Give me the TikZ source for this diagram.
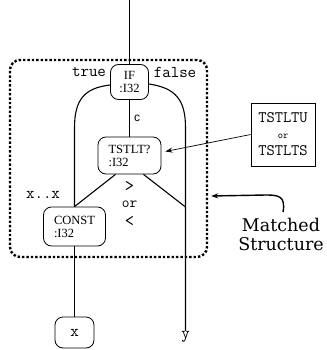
\documentclass[tikz,border=0pt]{standalone}
\usepackage{fontspec}
\setmainfont{Liberation Serif}
\newfontfamily\sansfont{Liberation Sans}
\newfontfamily\capfont{DejaVu Serif}
\usetikzlibrary{arrows.meta}
\begin{document}
\begin{tikzpicture}[x=1pt,y=-1pt,
  wire/.style={line width=1.1pt},
  opnode/.style={draw, line width=0.8pt, rounded corners=8pt, inner sep=2pt,
    font=\fontsize{12.5}{13}\selectfont, align=left},
  lbl/.style={font=\ttfamily\fontsize{16.5}{17}\selectfont, inner sep=0pt},
  cmp/.style={font=\ttfamily\fontsize{18}{18}\selectfont, inner sep=0pt, text height=8pt, text depth=0pt},
  matchbox/.style={draw, line width=2.4pt, dash pattern=on 2.4pt off 2pt,
    rounded corners=10pt},
  tip/.style={-{Stealth[length=7pt,width=5pt]}}]
\useasboundingbox (0,0) rectangle (326,350);

% matched region
\node[matchbox, minimum width=197pt, minimum height=197pt] (match) at (108.5,158.5) {};

% operation nodes
\node[opnode, align=center, minimum width=38pt, minimum height=35pt] (if) at (129.5,82) {IF\\:I32};
\node[opnode, minimum width=63pt, minimum height=37pt] (tstlt) at (129.5,155.5) {TSTLT?\\:I32};
\node[opnode, minimum width=62pt, minimum height=39pt] (const) at (74.5,226.5) {CONST\\:I32};
\node[draw, line width=0.8pt, rounded corners=8pt, minimum width=39pt, minimum height=31pt,
  font=\ttfamily\fontsize{16.5}{17}\selectfont] (xn) at (74.5,332.5) {x};

% opcode alternatives
\node[draw, line width=0.8pt, minimum width=64pt, minimum height=63pt, inner sep=1pt,
  align=center, font=\ttfamily\fontsize{16}{17}\selectfont] (alt) at (283,134.5)
  {TSTLTU\\[-1pt]{\fontsize{10}{10}\selectfont or}\\TSTLTS};

% wires
\coordinate (top) at (129.5,0);
\coordinate (rj) at (185.5,207);
\coordinate (yend) at (185.5,331);
\draw[wire] (top) -- (if.north);
\draw[wire] (if.south) -- node[right=4pt, font=\sansfont\fontsize{12}{13}\selectfont, inner sep=0pt] {c} (tstlt.north);
\draw[wire] ([yshift=-3pt]if.west) .. controls (84,88) and (74.5,100) .. (74.5,128) -- (const.north);
\draw[wire] ([yshift=-2pt]if.east) .. controls (176,88) and (185.5,100) .. (185.5,128) -- (yend);
\draw[wire] ([xshift=-14pt]tstlt.south) -- (const.north);
\draw[wire] ([xshift=14pt]tstlt.south) -- (rj);
\draw[wire] (const.south) -- (xn.north);

% labels
\node[lbl] at (89,72) {true};
\node[lbl] at (175,72) {false};
\node[lbl] at (43,195) {x..x};
\node[lbl, anchor=north] at (yend) {y};
\node[cmp] at (129.5,187.5) {>};
\node[font=\ttfamily\fontsize{15}{15}\selectfont, inner sep=0pt] at (129.5,204) {or};
\node[cmp] at (129.5,222) {<};

% annotations
\draw[line width=0.7pt, tip] (alt.west) -- ([shift={(4,-4)}]tstlt.east);
\node[font=\capfont\fontsize{17.5}{19}\selectfont, align=center, inner sep=0pt] (cap) at (281,234) {Matched\\Structure};
\draw[line width=1.4pt, tip] (283,212) .. controls (286,196) and (278,195) .. (266,195) -- ([shift={(3,37.5)}]match.east);
\end{tikzpicture}
\end{document}
